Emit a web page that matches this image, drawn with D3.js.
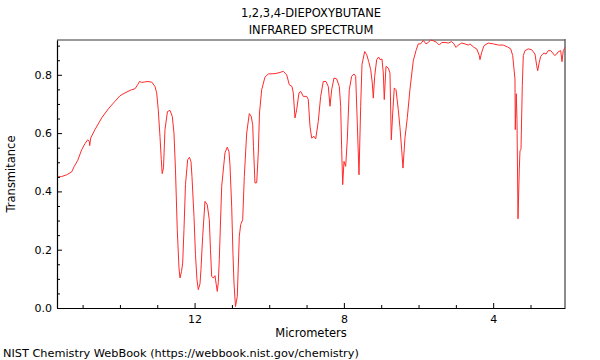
<!DOCTYPE html>
<html>
<head>
<meta charset="utf-8">
<script src="https://cdn.jsdelivr.net/npm/d3@7"></script>
<style>
  html, body { margin: 0; padding: 0; background: #fff; }
  svg { display: block; font-family: "DejaVu Sans", sans-serif; }
</style>
</head>
<body>
<svg id="chart" width="600" height="360"></svg>
<script>
// ---- Data ----
const titleLines = ["1,2,3,4-DIEPOXYBUTANE", "INFRARED SPECTRUM"];
const xLabel = "Micrometers";
const yLabel = "Transmitance";
const footer = "NIST Chemistry WebBook (https://webbook.nist.gov/chemistry)";

const xDomain = [15.686, 2.076];
const yDomain = [0, 0.9194];
const xMajorTicks = [12, 8, 4];
const xMinorTicks = [15, 14, 13, 11, 10, 9, 7, 6, 5, 3];
const yMajorTicks = [0, 0.2, 0.4, 0.6, 0.8];
const yMinorTicks = [0.05, 0.1, 0.15, 0.25, 0.3, 0.35, 0.45, 0.5, 0.55, 0.65, 0.7, 0.75, 0.85, 0.9];

// wavelength in micrometers
const wavelength = [
  15.686, 15.561, 15.427, 15.293, 15.223, 15.132, 15.025, 14.936, 14.864, 14.821,
  14.810, 14.784, 14.668, 14.489, 14.312, 14.133, 13.999, 13.865, 13.685, 13.597,
  13.524, 13.476, 13.417, 13.348, 13.275, 13.149, 13.061, 13.015, 12.973, 12.927,
  12.892, 12.868, 12.833, 12.793, 12.726, 12.659, 12.597, 12.552, 12.512, 12.464,
  12.418, 12.391, 12.351, 12.319, 12.284, 12.244, 12.185, 12.137, 12.096, 12.070,
  12.016, 11.976, 11.936, 11.901, 11.855, 11.829, 11.783, 11.721, 11.660, 11.606,
  11.574, 11.542, 11.499, 11.453, 11.419, 11.392, 11.365, 11.338, 11.274, 11.186,
  11.124, 11.078, 11.052, 11.006, 10.971, 10.944, 10.904, 10.856, 10.802, 10.765,
  10.711, 10.668, 10.604, 10.534, 10.484, 10.443, 10.422, 10.382, 10.336, 10.293,
  10.261, 10.202, 10.114, 10.025, 9.846, 9.712, 9.624, 9.532, 9.463, 9.390,
  9.356, 9.310, 9.265, 9.203, 9.157, 9.088, 8.997, 8.954, 8.908, 8.863,
  8.801, 8.755, 8.686, 8.622, 8.552, 8.480, 8.418, 8.372, 8.327, 8.265,
  8.193, 8.123, 8.086, 8.059, 8.032, 7.997, 7.952, 7.909, 7.855, 7.791,
  7.729, 7.684, 7.641, 7.595, 7.550, 7.515, 7.443, 7.389, 7.336, 7.282,
  7.239, 7.212, 7.175, 7.121, 7.068, 7.033, 6.979, 6.944, 6.918, 6.872,
  6.810, 6.765, 6.730, 6.692, 6.650, 6.604, 6.542, 6.497, 6.451, 6.417,
  6.363, 6.301, 6.229, 6.141, 6.068, 6.007, 5.942, 5.873, 5.800, 5.739,
  5.674, 5.605, 5.514, 5.444, 5.380, 5.291, 5.203, 5.112, 5.050, 4.997,
  4.935, 4.844, 4.755, 4.667, 4.622, 4.514, 4.442, 4.372, 4.354, 4.308,
  4.246, 4.131, 3.997, 3.863, 3.729, 3.622, 3.531, 3.477, 3.443, 3.416,
  3.408, 3.381, 3.362, 3.335, 3.301, 3.282, 3.255, 3.220, 3.193, 3.148,
  3.060, 2.968, 2.880, 2.834, 2.808, 2.765, 2.727, 2.674, 2.639, 2.585,
  2.524, 2.459, 2.406, 2.352, 2.299, 2.256, 2.191, 2.157, 2.122, 2.076
];
const transmittance = [
  0.449, 0.451, 0.457, 0.467, 0.486, 0.506, 0.543, 0.564, 0.577, 0.572,
  0.557, 0.583, 0.612, 0.652, 0.683, 0.709, 0.728, 0.738, 0.749, 0.752,
  0.766, 0.777, 0.774, 0.775, 0.777, 0.775, 0.760, 0.738, 0.680, 0.589,
  0.509, 0.461, 0.481, 0.612, 0.674, 0.678, 0.657, 0.600, 0.474, 0.269,
  0.138, 0.103, 0.125, 0.154, 0.269, 0.423, 0.509, 0.517, 0.502, 0.451,
  0.314, 0.183, 0.097, 0.063, 0.083, 0.131, 0.246, 0.366, 0.354, 0.303,
  0.200, 0.108, 0.103, 0.111, 0.080, 0.057, 0.087, 0.166, 0.417, 0.532,
  0.552, 0.536, 0.492, 0.349, 0.183, 0.086, 0.005, 0.040, 0.246, 0.286,
  0.303, 0.451, 0.600, 0.667, 0.658, 0.629, 0.554, 0.429, 0.430, 0.532,
  0.669, 0.749, 0.792, 0.803, 0.804, 0.808, 0.812, 0.800, 0.766, 0.760,
  0.738, 0.652, 0.680, 0.738, 0.743, 0.726, 0.726, 0.715, 0.623, 0.583,
  0.589, 0.580, 0.640, 0.726, 0.777, 0.777, 0.760, 0.692, 0.749, 0.789,
  0.786, 0.760, 0.692, 0.543, 0.423, 0.503, 0.486, 0.577, 0.749, 0.795,
  0.803, 0.795, 0.635, 0.457, 0.692, 0.835, 0.880, 0.869, 0.846, 0.818,
  0.772, 0.720, 0.795, 0.852, 0.861, 0.852, 0.854, 0.806, 0.715, 0.829,
  0.823, 0.806, 0.577, 0.669, 0.755, 0.749, 0.680, 0.619, 0.543, 0.480,
  0.584, 0.653, 0.751, 0.848, 0.883, 0.906, 0.906, 0.918, 0.906, 0.911,
  0.919, 0.917, 0.911, 0.902, 0.911, 0.911, 0.909, 0.914, 0.906, 0.894,
  0.902, 0.909, 0.906, 0.902, 0.906, 0.894, 0.889, 0.866, 0.852, 0.877,
  0.900, 0.909, 0.906, 0.902, 0.902, 0.896, 0.889, 0.866, 0.820, 0.786,
  0.612, 0.735, 0.646, 0.306, 0.474, 0.540, 0.543, 0.763, 0.866, 0.883,
  0.889, 0.886, 0.871, 0.831, 0.814, 0.843, 0.863, 0.871, 0.875, 0.871,
  0.883, 0.883, 0.875, 0.866, 0.871, 0.879, 0.883, 0.845, 0.883, 0.894
];

// ---- Layout ----
const svg = d3.select("#chart");
const mLeft = 57, mRight = 565, mTop = 40, mBottom = 308;

const x = d3.scaleLinear().domain(xDomain).range([mLeft, mRight]);
const y = d3.scaleLinear().domain(yDomain).range([mBottom, mTop]);

// title
svg.append("g").selectAll("text").data(titleLines).join("text")
  .attr("x", (mLeft + mRight) / 2)
  .attr("y", (d, i) => 17 + i * 17)
  .attr("text-anchor", "middle")
  .attr("font-size", 11.5)
  .attr("fill", "#000")
  .text(d => d);

// frame (top and right)
svg.append("line").attr("x1", mLeft).attr("x2", mRight).attr("y1", mTop).attr("y2", mTop)
  .attr("stroke", "#999").attr("stroke-width", 2);
svg.append("line").attr("x1", mRight).attr("x2", mRight).attr("y1", mTop - 1).attr("y2", mBottom)
  .attr("stroke", "#666").attr("stroke-width", 1.5);

// spectrum
const pts = wavelength.map((w, i) => [w, transmittance[i]]);
const line = d3.line().x(d => x(d[0])).y(d => y(d[1])).curve(d3.curveLinear);
svg.append("path").datum(pts)
  .attr("d", line)
  .attr("fill", "none")
  .attr("stroke", "#ff2a2a")
  .attr("stroke-width", 1)
  .attr("stroke-linejoin", "round");

// x axis
svg.append("g").attr("transform", `translate(0,${mBottom})`)
  .call(d3.axisBottom(x).tickValues(xMajorTicks).tickFormat(d3.format("d"))
    .tickSizeInner(-5).tickSizeOuter(0).tickPadding(7));
svg.append("g").attr("transform", `translate(0,${mBottom})`)
  .call(d3.axisBottom(x).tickValues(xMinorTicks).tickFormat("")
    .tickSizeInner(-3).tickSizeOuter(0))
  .call(g => g.select(".domain").remove());

// y axis
svg.append("g").attr("transform", `translate(${mLeft},0)`)
  .call(d3.axisLeft(y).tickValues(yMajorTicks).tickFormat(d3.format(".1f"))
    .tickSizeInner(-5).tickSizeOuter(0).tickPadding(5));
svg.append("g").attr("transform", `translate(${mLeft},0)`)
  .call(d3.axisLeft(y).tickValues(yMinorTicks).tickFormat("")
    .tickSizeInner(-3).tickSizeOuter(0))
  .call(g => g.select(".domain").remove());

svg.selectAll(".tick text").attr("font-size", 11).attr("font-family", "DejaVu Sans, sans-serif").attr("fill", "#000");
svg.selectAll(".domain").attr("stroke", "#000").attr("stroke-width", 1.2);
svg.selectAll(".tick line").attr("stroke", "#000");

// axis titles
svg.append("text").attr("x", (mLeft + mRight) / 2).attr("y", 337)
  .attr("text-anchor", "middle").attr("font-size", 11.5).text(xLabel);
svg.append("text")
  .attr("transform", `translate(15,${(mTop + mBottom) / 2}) rotate(-90)`)
  .attr("text-anchor", "middle").attr("font-size", 11.5).text(yLabel);

// footer
svg.append("text").attr("x", 3).attr("y", 357).attr("font-size", 11.3).text(footer);
</script>
</body>
</html>
